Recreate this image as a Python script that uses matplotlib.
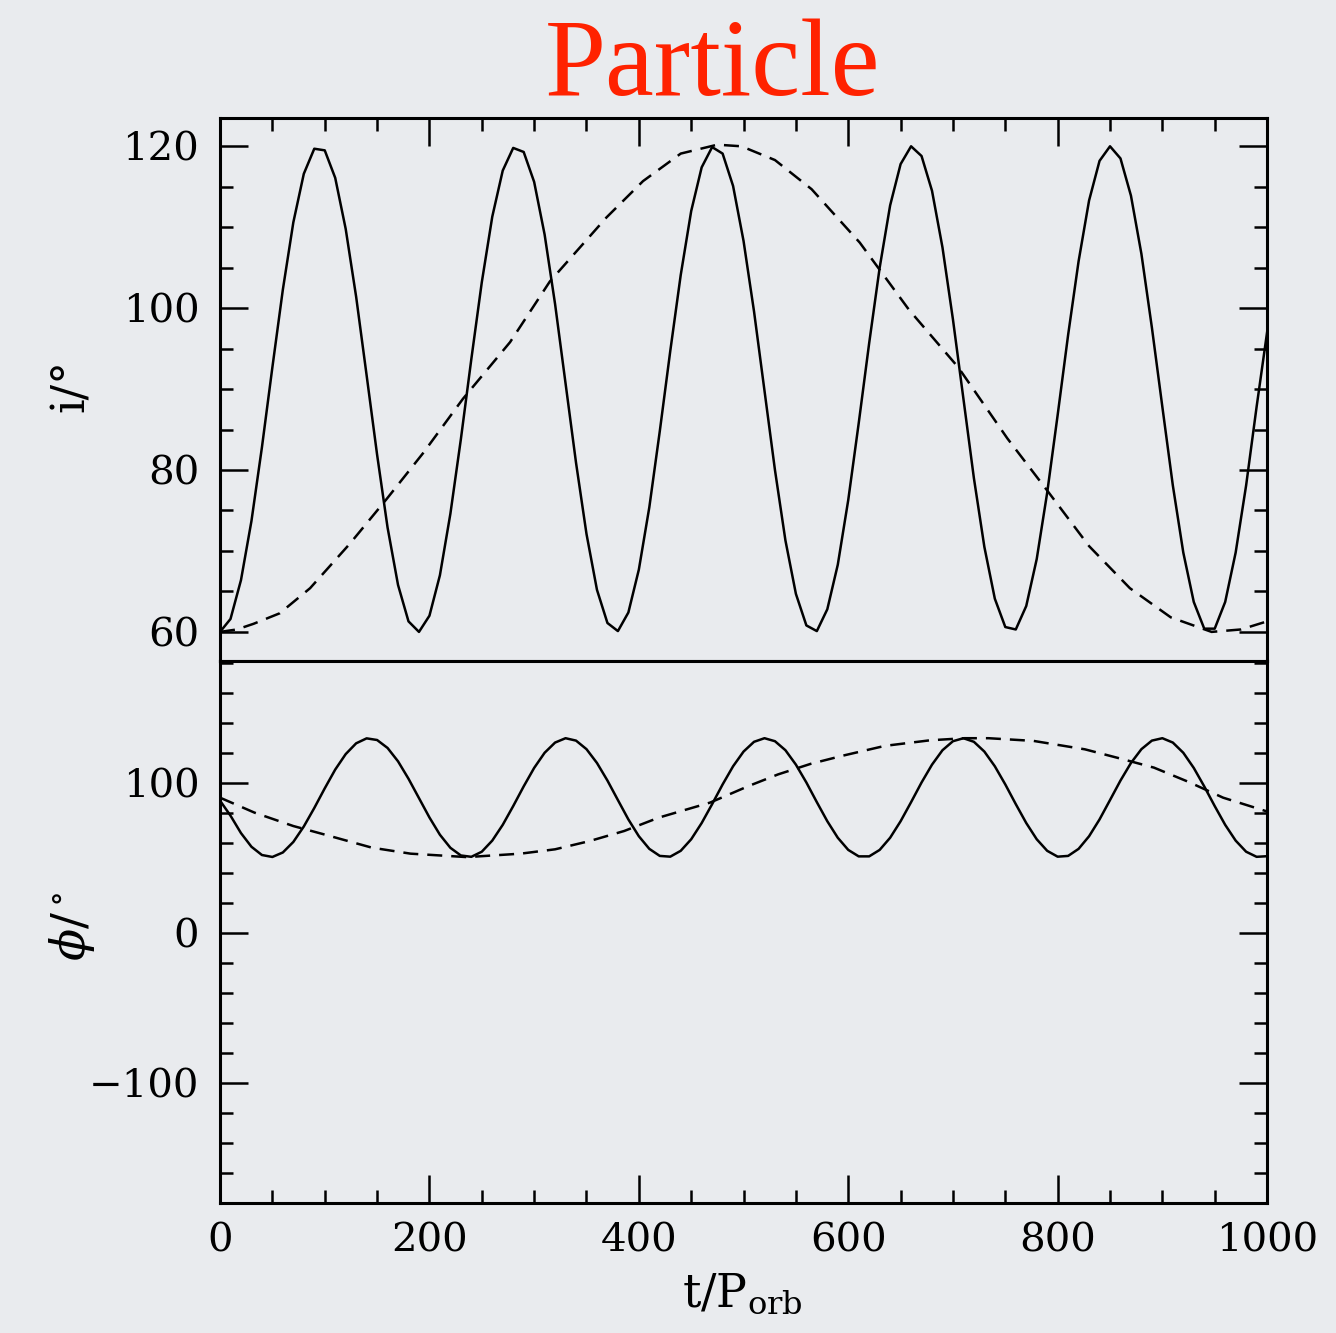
# Importar librerías necesarias
import matplotlib.pyplot as plt
from matplotlib.ticker import MultipleLocator

# Tiempo (t/P_orb) para las curvas continuas, cada 10 unidades
t_continua = list(range(0, 1001, 10))

# Inclinación i (grados), curva continua
i_continua = [60.0, 61.6, 66.4, 73.7, 82.8, 92.7, 102.3, 110.6, 116.6, 119.7,
              119.5, 116.1, 109.8, 101.4, 91.7, 81.9, 72.9, 65.8, 61.3, 60.0,
              62.0, 67.0, 74.6, 83.8, 93.7, 103.2, 111.3, 117.0, 119.8, 119.3,
              115.6, 109.1, 100.5, 90.7, 80.9, 72.1, 65.2, 61.1, 60.1, 62.4,
              67.7, 75.4, 84.8, 94.7, 104.1, 112.0, 117.4, 119.9, 119.1, 115.1,
              108.3, 99.6, 89.8, 80.0, 71.3, 64.7, 60.8, 60.1, 62.8, 68.3,
              76.3, 85.8, 95.7, 105.0, 112.7, 117.8, 120.0, 118.8, 114.5, 107.5,
              98.6, 88.8, 79.0, 70.5, 64.1, 60.6, 60.3, 63.2, 69.0, 77.2,
              86.8, 96.7, 105.8, 113.3, 118.2, 120.0, 118.5, 113.9, 106.7, 97.6,
              87.8, 78.1, 69.8, 63.7, 60.4, 60.4, 63.7, 69.8, 78.1, 87.8,
              97.0]

# Ángulo phi (grados), curva continua
phi_continua = [88.0, 78.0, 66.4, 57.3, 51.8, 50.5, 53.5, 60.5, 70.8, 83.1,
                96.2, 108.7, 119.0, 126.2, 129.5, 128.4, 123.1, 114.2, 102.6, 89.7,
                76.8, 65.3, 56.6, 51.5, 50.6, 54.0, 61.4, 71.9, 84.4, 97.5,
                109.8, 119.9, 126.7, 129.6, 128.0, 122.3, 113.1, 101.4, 88.4, 75.5,
                64.3, 55.9, 51.2, 50.7, 54.6, 62.3, 73.1, 85.7, 98.8, 110.9,
                120.7, 127.2, 129.6, 127.6, 121.6, 112.0, 100.1, 87.0, 74.3, 63.3,
                55.2, 50.9, 50.9, 55.2, 63.3, 74.3, 87.0, 100.1, 112.0, 121.6,
                127.6, 129.6, 127.2, 120.7, 110.9, 98.8, 85.7, 73.1, 62.3, 54.6,
                50.7, 51.2, 55.9, 64.3, 75.5, 88.4, 101.4, 113.1, 122.3, 128.0,
                129.6, 126.7, 119.9, 109.8, 97.5, 84.4, 71.9, 61.4, 54.0, 50.6,
                51.0]

# Inclinación i (grados), curva discontinua
t_i_disc = [0, 16, 32, 57, 86, 124, 159, 194, 232, 277, 315, 369, 404, 440,
            475, 498, 530, 565, 611, 658, 705, 752, 791, 830, 869, 908, 947,
            975, 1000]
i_disc = [60.0, 60.3, 61.0, 62.3, 65.4, 70.9, 76.4, 82.1, 88.8, 95.8, 103.3,
          111.2, 115.7, 119.1, 120.2, 120.0, 118.3, 114.7, 108.1, 99.8, 92.7,
          83.9, 77.3, 70.6, 65.4, 61.8, 60.0, 60.3, 61.3]

# Ángulo phi (grados), curva discontinua
t_phi_disc = [0, 33, 70, 99, 145, 182, 236, 287, 320, 353, 386, 419, 468,
              505, 533, 564, 595, 635, 678, 711, 734, 777, 826, 859, 892, 925,
              958, 1000]
phi_disc = [90.0, 80.0, 71.1, 65.6, 56.7, 52.7, 50.4, 52.7, 55.6, 61.1, 67.8,
            76.7, 86.7, 97.8, 105.5, 112.5, 118.0, 124.5, 128.2, 129.6, 129.6,
            127.8, 122.2, 116.2, 110.0, 100.5, 90.0, 80.8]

fondo = '#e9ebee'
plt.rcParams['font.family'] = 'DejaVu Serif'
plt.rcParams['mathtext.fontset'] = 'dejavuserif'

fig = plt.figure(figsize=(13.36, 13.33), dpi=100, facecolor=fondo)
ax1 = fig.add_axes([0.1647, 0.5041, 0.7837, 0.4074])
ax2 = fig.add_axes([0.1647, 0.0975, 0.7837, 0.4066], sharex=ax1)

grosor = 1.8
estilo_disc = (0, (6, 3.6))

ax1.plot(t_continua, i_continua, color='black', lw=grosor)
ax1.plot(t_i_disc, i_disc, color='black', lw=grosor, linestyle=estilo_disc)
ax2.plot(t_continua, phi_continua, color='black', lw=grosor)
ax2.plot(t_phi_disc, phi_disc, color='black', lw=grosor, linestyle=estilo_disc)

ax1.set_xlim(0, 1000)
ax1.set_ylim(56.4, 123.5)
ax2.set_ylim(-180, 181)

# Marcas y ejes
for ax in (ax1, ax2):
    ax.set_facecolor(fondo)
    for lado in ax.spines.values():
        lado.set_linewidth(2.2)
    ax.xaxis.set_major_locator(MultipleLocator(200))
    ax.xaxis.set_minor_locator(MultipleLocator(50))
    ax.tick_params(which='major', direction='in', length=20, width=1.8,
                   labelsize=29, pad=15)
    ax.tick_params(which='minor', direction='in', length=9.5, width=1.8)

ax1.yaxis.set_major_locator(MultipleLocator(20))
ax1.yaxis.set_minor_locator(MultipleLocator(5))
ax2.yaxis.set_major_locator(MultipleLocator(100))
ax2.yaxis.set_minor_locator(MultipleLocator(20))

ax1.tick_params(which='both', top=True, bottom=False, left=True, right=True,
                labelbottom=False)
ax2.tick_params(which='both', top=False, bottom=True, left=True, right=True)
ax2.tick_params(axis='x', labelsize=29, pad=14)

ax2.set_yticks([-100, 0, 100])
ax2.set_yticklabels(['\u2212100', '0', '100'])

# Etiquetas
fig.text(0.053, 0.711, 'i/\u00b0', rotation=90, fontsize=33,
         ha='center', va='center')
fig.text(0.054, 0.305, r'$\phi/^\circ$', rotation=90, fontsize=34,
         ha='center', va='center')
fig.text(0.556, 0.029, r'$\mathrm{t/P_{orb}}$', fontsize=33,
         ha='center', va='center')

# Título
fig.text(0.533, 1 - 95 / 1333, 'Particle', fontsize=79, color='#ff2200',
         family='Liberation Serif', ha='center', va='baseline')

plt.savefig('out.png', dpi=100, facecolor=fondo)
